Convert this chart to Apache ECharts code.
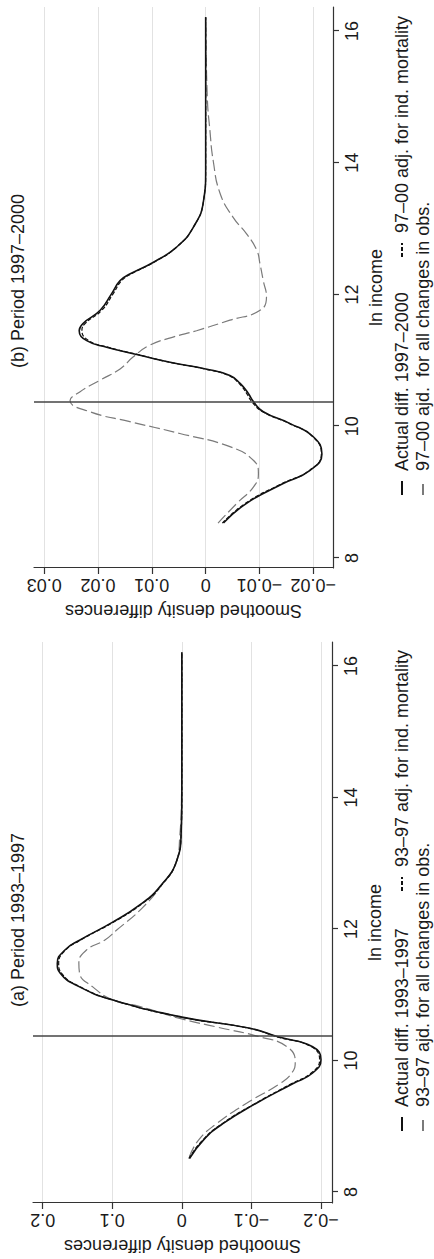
<!DOCTYPE html>
<html><head><meta charset="utf-8">
<script src="https://cdn.jsdelivr.net/npm/echarts@6/dist/echarts.min.js"></script>
<style>
html,body{margin:0;padding:0;background:#fff;width:434px;height:1259px;overflow:hidden;}
#chart{position:absolute;left:0;top:0;width:1259px;height:434px;transform-origin:0 0;transform:translate(0,1259px) rotate(-90deg);background:#fff;}
</style></head><body><div id="chart"></div>
<script>
// ---- data ----
const xTicks = [8, 10, 12, 14, 16];
const yTicksA = [-0.2, -0.1, 0, 0.1, 0.2];
const yTicksB = [-0.02, -0.01, 0, 0.01, 0.02, 0.03];
const refLineA = 10.37;
const refLineB = 10.37;
const titleA = "(a) Period 1993–1997";
const titleB = "(b) Period 1997–2000";
const xLabel = "ln income";
const yLabel = "Smoothed density differences";
const namesA = ["Actual diff. 1993–1997", "93–97 adj. for ind. mortality", "93–97 ajd. for all changes in obs."];
const namesB = ["Actual diff. 1997–2000", "97–00 adj. for ind. mortality", "97–00 ajd.  for all changes in obs."];

// Panel (a)
const xA_actual = [8.51, 8.79, 9.04, 9.35, 9.65, 9.81, 10.01, 10.21, 10.36, 10.49, 10.66, 10.92, 11.12, 11.33, 11.48, 11.68, 11.83, 12.1, 12.37, 12.64, 13.05, 13.46, 14.0, 15.0, 16.21];
const yA_actual = [-0.011, -0.031, -0.059, -0.107, -0.160, -0.188, -0.200, -0.188, -0.138, -0.098, 0.0, 0.099, 0.147, 0.175, 0.179, 0.168, 0.147, 0.10, 0.060, 0.032, 0.007, 0.001, 0.0, 0.0, 0.0];
const yA_mort   = [-0.010, -0.030, -0.058, -0.106, -0.158, -0.186, -0.198, -0.186, -0.137, -0.097, 0.001, 0.099, 0.146, 0.173, 0.177, 0.167, 0.146, 0.099, 0.059, 0.031, 0.007, 0.001, 0.0, 0.0, 0.0];
const xA_all = [8.54, 8.79, 9.04, 9.35, 9.65, 9.81, 9.98, 10.21, 10.36, 10.51, 10.64, 10.82, 10.92, 11.12, 11.33, 11.48, 11.68, 11.83, 11.98, 12.33, 12.70, 13.05, 13.4, 14.0, 15.0, 16.21];
const yA_all = [-0.011, -0.024, -0.050, -0.093, -0.141, -0.158, -0.163, -0.151, -0.112, -0.050, 0.003, 0.060, 0.099, 0.128, 0.147, 0.148, 0.137, 0.111, 0.094, 0.056, 0.027, 0.007, 0.003, 0.0005, 0.0, 0.0];

// Panel (b)
const xB_actual = [8.53, 8.83, 9.13, 9.33, 9.58, 9.84, 10.04, 10.22, 10.37, 10.50, 10.65, 10.77, 10.87, 10.97, 11.09, 11.20, 11.30, 11.45, 11.56, 11.76, 12.01, 12.21, 12.31, 12.49, 12.72, 13.02, 13.42, 13.88, 15.0, 16.21];
const yB_actual = [-0.0033, -0.0076, -0.0144, -0.0194, -0.0216, -0.0200, -0.0157, -0.0107, -0.0089, -0.0079, -0.0064, -0.0045, 0.0, 0.0066, 0.0128, 0.0184, 0.0221, 0.0235, 0.0228, 0.0196, 0.0175, 0.0159, 0.0141, 0.0097, 0.0054, 0.0023, 0.0004, 0.0, 0.0, 0.0];
const yB_mort   = [-0.0031, -0.0074, -0.0142, -0.0193, -0.0215, -0.0199, -0.0156, -0.0106, -0.0086, -0.0076, -0.0062, -0.0043, 0.0002, 0.0066, 0.0127, 0.0182, 0.0217, 0.0230, 0.0224, 0.0193, 0.0172, 0.0156, 0.0139, 0.0096, 0.0054, 0.0023, 0.0004, 0.0, 0.0, 0.0];
const xB_all = [8.53, 8.83, 9.08, 9.28, 9.48, 9.69, 9.89, 10.07, 10.22, 10.39, 10.52, 10.70, 10.87, 11.05, 11.23, 11.35, 11.45, 11.61, 11.76, 11.96, 12.21, 12.46, 12.67, 12.92, 13.17, 13.53, 14.03, 14.48, 15.0, 16.21];
const yB_all = [-0.0023, -0.0058, -0.0089, -0.0098, -0.0089, -0.0045, 0.0048, 0.0141, 0.0215, 0.0252, 0.0234, 0.0196, 0.0159, 0.0135, 0.0104, 0.0062, 0.0017, -0.0045, -0.0101, -0.0113, -0.0107, -0.0101, -0.0095, -0.0076, -0.0051, -0.0027, -0.0014, -0.0008, -0.0003, 0.0];

// ---- chart ----
const FONT = "'Liberation Sans', Arial, Helvetica, sans-serif";
const TXT = '#1a1a1a';
const pairs = (xs, ys) => xs.map((x, i) => [x, ys[i]]);
const fmt = v => String(v).replace('-', '\u2212');

function xAxisFor(g, min, max) {
  return {
    type: 'value', gridIndex: g, min: min, max: max,
    axisLine: { show: true, onZero: false, lineStyle: { color: '#333', width: 1.2 } },
    axisTick: { show: true, customValues: xTicks, length: 6, lineStyle: { color: '#333', width: 1.2 } },
    axisLabel: { customValues: xTicks, fontSize: 18, color: TXT, fontFamily: FONT, margin: 10 },
    splitLine: { show: false },
    name: xLabel, nameLocation: 'middle', nameGap: 34, nameMoveOverlap: false,
    nameTextStyle: { fontSize: 18, color: TXT, fontFamily: FONT }
  };
}
function yAxisFor(g, min, max, ticks) {
  return {
    type: 'value', gridIndex: g, min: min, max: max,
    axisLine: { show: true, onZero: false, lineStyle: { color: '#333', width: 1.2 } },
    axisTick: { show: true, customValues: ticks, length: 6, lineStyle: { color: '#333', width: 1.2 } },
    axisLabel: { customValues: ticks, rotate: 90, align: 'center', verticalAlign: 'bottom', fontSize: 18, color: TXT, fontFamily: FONT, margin: 8, formatter: fmt },
    splitLine: { show: true, customValues: ticks, lineStyle: { color: '#e2e2e2', width: 1 } },
    name: yLabel, nameLocation: 'middle', nameGap: 34, nameRotate: 90, nameMoveOverlap: false,
    nameTextStyle: { fontSize: 18, color: TXT, fontFamily: FONT, align: 'center', verticalAlign: 'bottom' }
  };
}
function lineSeries(name, g, data, style, ref) {
  const s = {
    name: name, type: 'line', xAxisIndex: g, yAxisIndex: g, data: data,
    symbol: 'none', smooth: 0.5, silent: true,
    lineStyle: style, itemStyle: { color: style.color }
  };
  if (ref !== undefined) {
    s.markLine = { silent: true, symbol: 'none', label: { show: false }, animation: false,
      lineStyle: { color: '#444', width: 1.5, type: 'solid' }, data: [{ xAxis: ref }] };
  }
  return s;
}
const solid = { color: '#111', width: 1.6, type: 'solid' };
const mort = { color: '#111', width: 1.2, type: [4, 2] };
const all = { color: '#7a7a7a', width: 1.2, type: [11, 4] };

function legendFor(name, left, top) {
  return {
    data: [name], left: left, top: top, padding: 0, itemWidth: 14, itemHeight: 12,
    selectedMode: false, inactiveColor: TXT,
    itemStyle: { opacity: 0 },
    textStyle: { fontSize: 18, color: TXT, fontFamily: FONT, padding: [0, 0, 0, 5] }
  };
}

const chart = echarts.init(document.getElementById('chart'), null, { renderer: 'svg', width: 1259, height: 434 });
chart.setOption({
  animation: false,
  backgroundColor: '#fff',
  title: [
    { text: titleA, left: 247, top: 4, textStyle: { fontSize: 18, fontWeight: 'normal', color: TXT, fontFamily: FONT } },
    { text: titleB, left: 886, top: 4, textStyle: { fontSize: 18, fontWeight: 'normal', color: TXT, fontFamily: FONT } }
  ],
  grid: [
    { left: 56, top: 33, width: 561, height: 299, outerBoundsMode: 'none' },
    { left: 691, top: 34, width: 561, height: 299, outerBoundsMode: 'none' }
  ],
  xAxis: [xAxisFor(0, 7.833, 16.365), xAxisFor(1, 7.848, 16.364)],
  yAxis: [yAxisFor(0, -0.2158, 0.2139, yTicksA), yAxisFor(1, -0.02366, 0.0319, yTicksB)],
  legend: [
    legendFor(namesA[0], 127, 393), legendFor(namesA[1], 367, 393), legendFor(namesA[2], 127, 414),
    legendFor(namesB[0], 763, 393), legendFor(namesB[1], 1001, 393), legendFor(namesB[2], 763, 414)
  ],
  series: [
    lineSeries(namesA[2], 0, pairs(xA_all, yA_all), all),
    lineSeries(namesA[1], 0, pairs(xA_actual, yA_mort), mort),
    lineSeries(namesA[0], 0, pairs(xA_actual, yA_actual), solid, refLineA),
    lineSeries(namesB[2], 1, pairs(xB_all, yB_all), all),
    lineSeries(namesB[1], 1, pairs(xB_actual, yB_mort), mort),
    lineSeries(namesB[0], 1, pairs(xB_actual, yB_actual), solid, refLineB)
  ]
});
</script></body></html>
